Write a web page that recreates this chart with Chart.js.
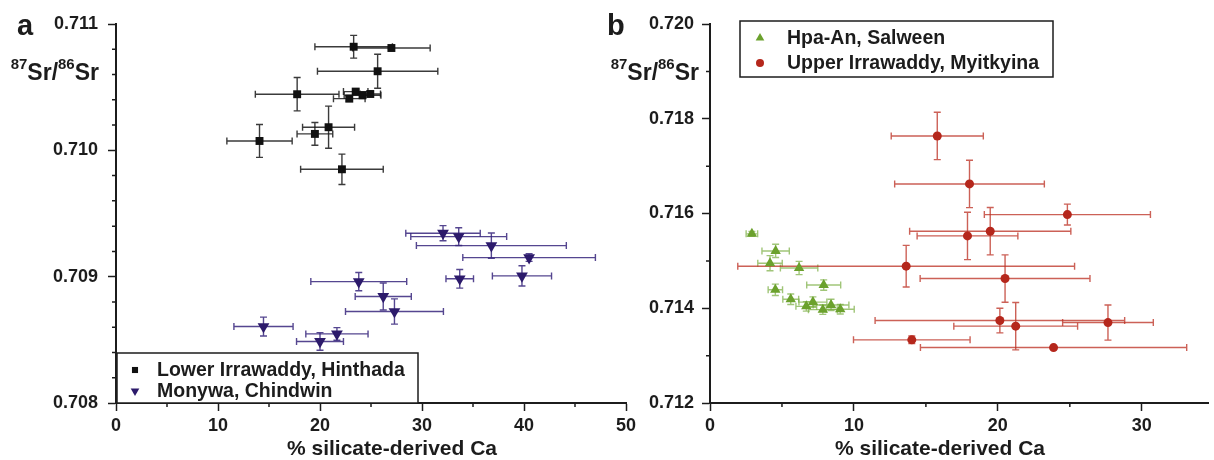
<!DOCTYPE html>
<html>
<head>
<meta charset="utf-8">
<script src="https://cdn.jsdelivr.net/npm/chart.js@4.4.0/dist/chart.umd.min.js"></script>
<style>
    html, body { margin: 0; padding: 0; background: #fff; }
    #wrap { position: relative; width: 1214px; height: 460px; overflow: hidden; }
    .panel { position: absolute; top: 0; }
    #panel-a { left: 0; }
    #panel-b { left: 600px; }
</style>
</head>
<body>
<div id="wrap">
    <div class="panel" id="panel-a"><canvas id="chart-a" width="650" height="460"></canvas></div>
    <div class="panel" id="panel-b"><canvas id="chart-b" width="614" height="460"></canvas></div>
</div>
<script>
// ---- data ----
// panel a
const hinthadaX    = [23.3, 27.0, 25.65, 17.76, 23.5, 22.87, 24.17, 24.93, 20.84, 19.5, 14.07, 22.15];
const hinthadaY    = [0.71082, 0.71081, 0.710626, 0.710444, 0.710465, 0.710409, 0.710436, 0.710446, 0.710183, 0.71013, 0.710074, 0.70985];
const hinthadaXErr = [3.8, 3.8, 5.9, 4.1, 1.2, 1.55, 1.8, 1.0, 2.55, 1.75, 3.2, 4.05];
const hinthadaYErr = [0.00009, 0.00001, 0.000134, 0.000132, 0.00002, 0.00002, 0.00002, 0.00002, 0.000167, 0.00009, 0.00013, 0.00012];

const monywaX    = [32.06, 33.6, 36.8, 40.5, 33.7, 39.8, 23.8, 26.2, 27.3, 14.46, 21.66, 20.0];
const monywaY    = [0.709344, 0.709317, 0.709246, 0.709151, 0.708983, 0.709006, 0.708961, 0.708843, 0.708724, 0.708605, 0.708547, 0.708487];
const monywaXErr = [3.65, 4.7, 7.35, 6.5, 1.35, 2.9, 4.7, 2.75, 4.8, 2.9, 3.05, 2.3];
const monywaYErr = [0.00006, 0.00007, 0.0001, 0.00003, 0.000074, 0.00008, 0.000072, 0.000107, 0.0001, 0.000075, 0.00005, 0.00007];

// panel b
const hpaAnX    = [2.91, 4.56, 4.17, 6.19, 7.9, 4.54, 5.61, 7.15, 6.69, 8.41, 7.84, 9.05];
const hpaAnY    = [0.71557, 0.71521, 0.71495, 0.71485, 0.71449, 0.71439, 0.71419, 0.71413, 0.71404, 0.71407, 0.71397, 0.71398];
const hpaAnXErr = [0.4, 0.95, 0.85, 1.3, 1.18, 0.5, 0.55, 0.97, 0.72, 1.24, 1.0, 0.97];
const hpaAnYErr = [0.00005, 0.00014, 0.00016, 0.00014, 0.00011, 0.00012, 0.00011, 0.00011, 0.0001, 0.00012, 0.0001, 0.0001];

const myitkyinaX    = [15.79, 18.03, 24.83, 17.89, 19.47, 13.63, 20.5, 20.14, 21.24, 27.65, 14.02, 23.87];
const myitkyinaY    = [0.717637, 0.716624, 0.715977, 0.715527, 0.715626, 0.714888, 0.714627, 0.713741, 0.713622, 0.713698, 0.713333, 0.71317];
const myitkyinaXErr = [3.2, 5.2, 5.77, 3.5, 5.6, 11.7, 5.9, 8.67, 4.3, 3.15, 4.05, 9.25];
const myitkyinaYErr = [0.0005, 0.0005, 0.00022, 0.0005, 0.0005, 0.00044, 0.0005, 0.00026, 0.0005, 0.00037, 0.00008, 0.00003];

// axis ticks
const xTicksA = { min: 0, max: 50, step: 5, labelEvery: 10 };
const yTicksA = { min: 0.708, max: 0.711, step: 0.0002, labelEvery: 0.001 };
const xTicksB = { min: 0, max: 34.6, step: 5, labelEvery: 10 };
const yTicksB = { min: 0.712, max: 0.720, step: 0.001, labelEvery: 0.002 };

const xTitle = "% silicate-derived Ca";

// ---- helpers ----
const ink = "#1c1c1c";
const fontFamily = '"Liberation Sans", Arial, Helvetica, sans-serif';

Chart.defaults.font.family = fontFamily;
Chart.defaults.font.weight = "bold";
Chart.defaults.color = ink;

const points = (xs, ys, xe, ye) => xs.map((x, i) => ({ x: x, y: ys[i], xErr: xe[i], yErr: ye[i] }));

const onStep = (v, every) => Math.abs(v / every - Math.round(v / every)) < 1e-6;

// error bars, minor ticks, legend box, titles
const decor = {
    id: "decor",
    beforeDatasetsDraw(chart) {
        const ctx = chart.ctx;
        const xs = chart.scales.x, ys = chart.scales.y;
        chart.data.datasets.forEach((ds, di) => {
            const meta = chart.getDatasetMeta(di);
            ctx.save();
            ctx.strokeStyle = ds.errColor;
            ctx.lineWidth = 1.4;
            ds.data.forEach((p, i) => {
                const el = meta.data[i];
                const cx = el.x, cy = el.y;
                const x1 = xs.getPixelForValue(p.x - p.xErr), x2 = xs.getPixelForValue(p.x + p.xErr);
                const y1 = ys.getPixelForValue(p.y - p.yErr), y2 = ys.getPixelForValue(p.y + p.yErr);
                const c = 3.5;
                ctx.beginPath();
                ctx.moveTo(x1, cy); ctx.lineTo(x2, cy);
                ctx.moveTo(x1, cy - c); ctx.lineTo(x1, cy + c);
                ctx.moveTo(x2, cy - c); ctx.lineTo(x2, cy + c);
                ctx.moveTo(cx, y1); ctx.lineTo(cx, y2);
                ctx.moveTo(cx - c, y1); ctx.lineTo(cx + c, y1);
                ctx.moveTo(cx - c, y2); ctx.lineTo(cx + c, y2);
                ctx.stroke();
            });
            ctx.restore();
        });
    },
    afterDraw(chart, args, opts) {
        const ctx = chart.ctx;
        const area = chart.chartArea;
        const xs = chart.scales.x, ys = chart.scales.y;

        // minor ticks
        ctx.save();
        ctx.strokeStyle = ink;
        ctx.lineWidth = 1.5;
        ctx.beginPath();
        xs.ticks.forEach(t => {
            if (onStep(t.value, opts.xEvery)) return;
            const px = xs.getPixelForValue(t.value);
            ctx.moveTo(px, area.bottom); ctx.lineTo(px, area.bottom + 4);
        });
        ys.ticks.forEach(t => {
            if (onStep(t.value, opts.yEvery)) return;
            const py = ys.getPixelForValue(t.value);
            ctx.moveTo(area.left - 4, py); ctx.lineTo(area.left, py);
        });
        ctx.stroke();

        // panel letter
        ctx.fillStyle = ink;
        ctx.textBaseline = "alphabetic";
        ctx.textAlign = "left";
        ctx.font = "bold 29px " + fontFamily;
        ctx.fillText(opts.letter, opts.letterX, 35);

        // y title with superscripts: 87Sr/86Sr
        const big = "bold 23px " + fontFamily, small = "bold 15px " + fontFamily;
        const parts = [["87", small, -11], ["Sr/", big, 0], ["86", small, -11], ["Sr", big, 0]];
        let total = 0;
        parts.forEach(p => { ctx.font = p[1]; total += ctx.measureText(p[0]).width; });
        let tx = opts.yTitleRight - total;
        parts.forEach(p => {
            ctx.font = p[1];
            ctx.fillText(p[0], tx, 80 + p[2]);
            tx += ctx.measureText(p[0]).width;
        });

        // x title
        ctx.font = "bold 21px " + fontFamily;
        ctx.textAlign = "center";
        ctx.textBaseline = "middle";
        ctx.fillText(xTitle, area.left + opts.xTitleOffset, 449);

        // legend box
        const lb = opts.legend;
        ctx.lineWidth = 1.5;
        ctx.strokeStyle = ink;
        ctx.fillStyle = "#fff";
        ctx.fillRect(lb.left, lb.top, lb.right - lb.left, lb.bottom - lb.top);
        ctx.strokeRect(lb.left, lb.top, lb.right - lb.left, lb.bottom - lb.top);
        ctx.font = "bold 19.5px " + fontFamily;
        ctx.textAlign = "left";
        chart.data.datasets.forEach((ds, i) => {
            const ly = lb.top + lb.firstRow + i * lb.rowGap;
            ctx.fillStyle = ds.backgroundColor;
            ctx.strokeStyle = ds.backgroundColor;
            Chart.helpers.drawPoint(ctx, {
                pointStyle: ds.pointStyle, rotation: ds.rotation || 0,
                radius: ds.legendRadius, borderWidth: 0
            }, lb.markerX, ly);
            ctx.fillStyle = ink;
            ctx.fillText(ds.label, lb.textX, ly + 1);
        });
        ctx.restore();
    }
};

const axisX = (t) => ({
    type: "linear",
    min: t.min, max: t.max,
    afterFit: s => { s.height = 57; },
    border: { color: ink, width: 2 },
    grid: {
        drawOnChartArea: false, tickLength: 8, tickWidth: 1.5,
        tickColor: c => (c.tick && onStep(c.tick.value, t.labelEvery)) ? ink : "rgba(0,0,0,0)"
    },
    ticks: {
        stepSize: t.step, includeBounds: false, autoSkip: false, maxRotation: 0, padding: 4,
        font: { size: 18, weight: "bold" }, color: ink,
        callback: v => onStep(v, t.labelEvery) ? String(Math.round(v)) : ""
    }
});

const axisY = (t, width, pad) => ({
    type: "linear",
    min: t.min, max: t.max,
    afterFit: s => { s.width = width; },
    border: { color: ink, width: 2 },
    grid: {
        drawOnChartArea: false, tickLength: 8, tickWidth: 1.5,
        tickColor: c => (c.tick && onStep(c.tick.value, t.labelEvery)) ? ink : "rgba(0,0,0,0)"
    },
    ticks: {
        stepSize: t.step, includeBounds: false, autoSkip: false, padding: pad,
        font: { size: 18, weight: "bold" }, color: ink,
        callback: v => onStep(v, t.labelEvery) ? v.toFixed(3) : ""
    }
});

// ---- panel a ----
const chartA = document.querySelector("#chart-a").getContext("2d");

new Chart(chartA, {
    type: "scatter",
    data: {
        datasets: [
            {
                label: "Lower Irrawaddy, Hinthada",
                data: points(hinthadaX, hinthadaY, hinthadaXErr, hinthadaYErr),
                pointStyle: "rect",
                pointRadius: 5.6,
                legendRadius: 4.3,
                backgroundColor: "#111111",
                borderColor: "#111111",
                borderWidth: 0,
                errColor: "rgba(25,25,25,0.85)"
            },
            {
                label: "Monywa, Chindwin",
                data: points(monywaX, monywaY, monywaXErr, monywaYErr),
                pointStyle: "triangle",
                rotation: 180,
                pointRadius: 6.8,
                legendRadius: 5,
                backgroundColor: "#2c1a6b",
                borderColor: "#2c1a6b",
                borderWidth: 0,
                errColor: "rgba(55,38,125,0.85)"
            }
        ]
    },
    options: {
        responsive: false,
        animation: false,
        layout: { padding: { left: 0, top: 24, right: 24, bottom: 0 } },
        scales: {
            x: axisX(xTicksA),
            y: axisY(yTicksA, 116, 10)
        },
        plugins: {
            legend: { display: false },
            tooltip: { enabled: false },
            decor: {
                letter: "a", letterX: 17, yTitleRight: 99, xTitleOffset: 276,
                xEvery: xTicksA.labelEvery, yEvery: yTicksA.labelEvery,
                legend: { left: 117, top: 353, right: 418, bottom: 403, firstRow: 17, rowGap: 21, markerX: 135, textX: 157 }
            }
        }
    },
    plugins: [decor]
});

// ---- panel b ----
const chartB = document.querySelector("#chart-b").getContext("2d");

new Chart(chartB, {
    type: "scatter",
    data: {
        datasets: [
            {
                label: "Hpa-An, Salween",
                data: points(hpaAnX, hpaAnY, hpaAnXErr, hpaAnYErr),
                pointStyle: "triangle",
                pointRadius: 6,
                legendRadius: 5,
                backgroundColor: "#6ba12d",
                borderColor: "#6ba12d",
                borderWidth: 0,
                errColor: "rgba(120,172,62,0.7)"
            },
            {
                label: "Upper Irrawaddy, Myitkyina",
                data: points(myitkyinaX, myitkyinaY, myitkyinaXErr, myitkyinaYErr),
                pointStyle: "circle",
                pointRadius: 4.5,
                legendRadius: 4,
                backgroundColor: "#b5271c",
                borderColor: "#b5271c",
                borderWidth: 0,
                errColor: "rgba(190,52,40,0.78)"
            }
        ]
    },
    options: {
        responsive: false,
        animation: false,
        layout: { padding: { left: 0, top: 24, right: 0, bottom: 0 } },
        scales: {
            x: axisX(xTicksB),
            y: axisY(yTicksB, 110, 8)
        },
        plugins: {
            legend: { display: false },
            tooltip: { enabled: false },
            decor: {
                letter: "b", letterX: 7, yTitleRight: 99, xTitleOffset: 230,
                xEvery: xTicksB.labelEvery, yEvery: yTicksB.labelEvery,
                legend: { left: 140, top: 21, right: 453, bottom: 77, firstRow: 17, rowGap: 25, markerX: 160, textX: 187 }
            }
        }
    },
    plugins: [decor]
});
</script>
</body>
</html>
